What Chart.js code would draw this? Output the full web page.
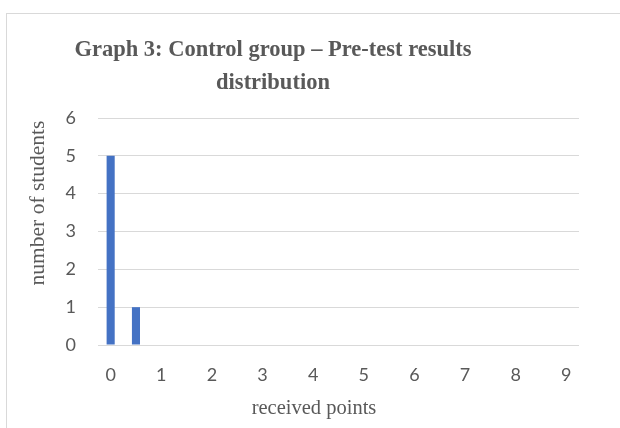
<!DOCTYPE html>
<html>
<head>
<meta charset="utf-8">
<script src="https://cdn.jsdelivr.net/npm/chart.js@4.4.0/dist/chart.umd.min.js"></script>
<style>
  body { margin: 0; background: #fff; overflow: hidden; }
  #frame { position: absolute; left: 6px; top: 13px; width: 700px; height: 500px; border: 1px solid #d9d9d9; }
  #wrap { position: absolute; left: 0; top: 0; width: 620px; height: 428px; }
</style>
</head>
<body>
<div id="frame"></div>
<div id="wrap"><canvas id="chart" width="620" height="428"></canvas></div>
<script>
// received points (half-point steps), only whole numbers are labelled
var points = ["0", "0.5", "1", "1.5", "2", "2.5", "3", "3.5", "4", "4.5", "5", "5.5", "6", "6.5", "7", "7.5", "8", "8.5", "9"];
var students = [5, 1, 0, 0, 0, 0, 0, 0, 0, 0, 0, 0, 0, 0, 0, 0, 0, 0, 0];
var yTicks = [0, 1, 2, 3, 4, 5, 6];

var titleLines = ["Graph 3: Control group \u2013 Pre-test results", "distribution"];
var xTitle = "received points";
var yTitle = "number of students";

var grey = "#595959";

// titles are placed like in the Excel original (not centred on the plot)
var textPlugin = {
    id: "excelTexts",
    afterDraw: function (chart) {
        var c = chart.ctx;
        c.save();
        c.fillStyle = grey;
        c.textAlign = "center";
        c.textBaseline = "alphabetic";
        c.font = "bold 22.5px 'Liberation Serif'";
        c.fillText(titleLines[0], 273, 56);
        c.fillText(titleLines[1], 273, 89);

        c.font = "20.5px 'Liberation Serif'";
        c.fillText(xTitle, 314, 414);

        c.font = "21.5px 'Liberation Serif'";
        c.translate(44, 203);
        c.rotate(-Math.PI / 2);
        c.fillText(yTitle, 0, 0);
        c.restore();
    }
};

var ctx = document.getElementById("chart");

var chartGraph = new Chart(ctx, {
    type: 'bar',
    data: {
        labels: points,
        datasets: [
            {
                data: students,
                backgroundColor: '#4472C4',
                categoryPercentage: 1,
                barPercentage: 0.32
            }
        ]
    },
    options: {
        responsive: false,
        animation: false,
        layout: {
            padding: { left: 0, right: 41, top: 118, bottom: 0 }
        },
        plugins: {
            legend: { display: false },
            title: { display: false },
            tooltip: { enabled: false }
        },
        scales: {
            x: {
                grid: { display: false, drawTicks: false },
                border: { display: false },
                ticks: {
                    color: grey,
                    font: { family: 'Lato', size: 18 },
                    padding: 19,
                    autoSkip: false,
                    maxRotation: 0,
                    callback: function (val, i) {
                        var p = points[i];
                        return p.indexOf(".") < 0 ? p : "";
                    }
                },
                afterFit: function (scale) { scale.height = 83; }
            },
            y: {
                min: yTicks[0],
                max: yTicks[yTicks.length - 1],
                grid: { color: '#d9d9d9', lineWidth: 1, drawTicks: false },
                border: { display: false },
                ticks: {
                    stepSize: 1,
                    color: grey,
                    font: { family: 'Lato', size: 18 },
                    padding: 22
                },
                afterFit: function (scale) { scale.width = 98; }
            }
        }
    },
    plugins: [textPlugin]
});
</script>
</body>
</html>
